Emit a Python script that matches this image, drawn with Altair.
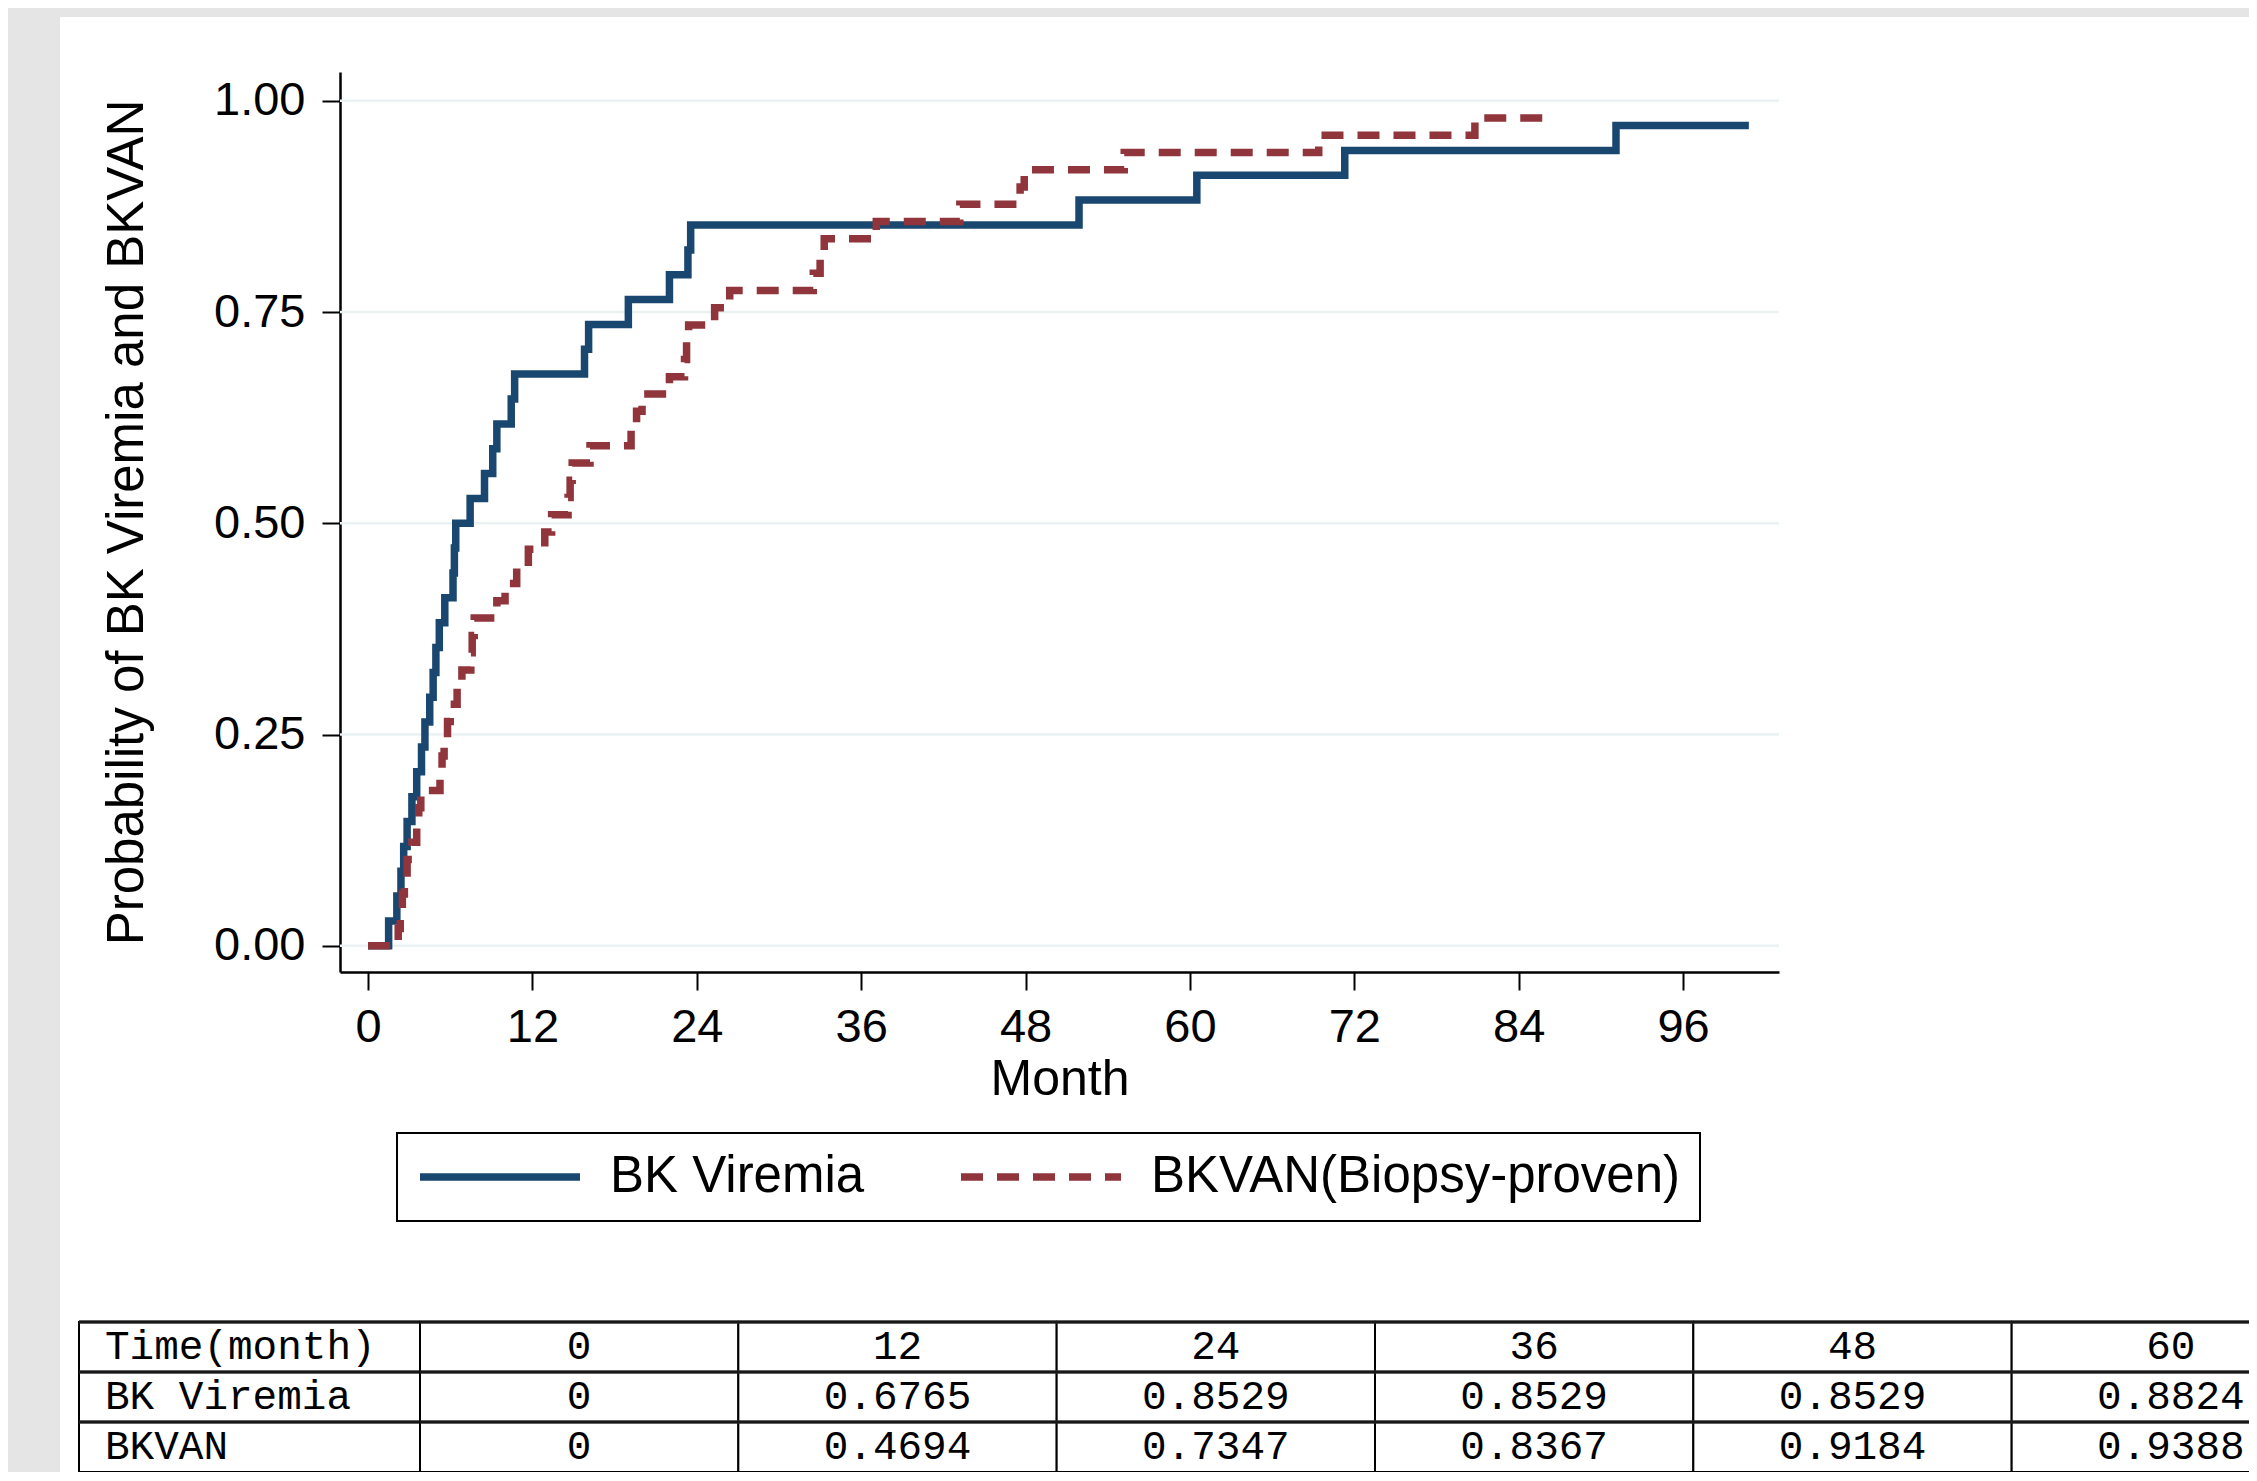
import altair as alt
import pandas as pd

# ---------------- data ----------------
series_names = ["BK Viremia", "BKVAN(Biopsy-proven)"]
series_colors = ["#1a476f", "#90353b"]

bkv_month = [0, 1.5, 2.1, 2.4, 2.6, 2.85, 3.2, 3.55, 3.9, 4.15,
             4.5, 4.75, 4.95, 5.2, 5.6, 6.2, 6.3, 6.4, 7.45, 8.5,
             9.1, 9.4, 10.45, 10.7, 15.8, 16.1, 19.0, 22.0, 23.35, 23.55,
             51.9, 60.5, 71.3, 91.1, 100.8]
bkv_prob = [0, 0.0294, 0.0588, 0.0882, 0.1176, 0.1471, 0.1765, 0.2059, 0.2353, 0.2647,
            0.2941, 0.3235, 0.3529, 0.3824, 0.4118, 0.4412, 0.4706, 0.5, 0.5294, 0.5588,
            0.5882, 0.6176, 0.6471, 0.6765, 0.7059, 0.7353, 0.7647, 0.7941, 0.8235, 0.8529,
            0.8824, 0.9118, 0.9412, 0.9706, 0.9706]

bkvan_month = [0, 2.2, 2.35, 2.5, 2.65, 2.85, 3.2, 3.55, 3.7, 3.85,
               5.25, 5.4, 5.55, 5.8, 6.0, 6.5, 6.85, 7.5, 7.6, 7.75,
               9.4, 10.0, 10.85, 11.7, 12.9, 13.4, 14.6, 14.75, 14.9, 16.2,
               19.2, 19.6, 20.0, 22.0, 23.1, 23.25, 23.4, 25.3, 26.4, 32.5,
               33.0, 33.3, 37.1, 43.2, 47.6, 47.9, 55.2, 69.4, 80.8, 86.4]
bkvan_prob = [0, 0.0204, 0.0408, 0.0612, 0.0816, 0.1020, 0.1224, 0.1429, 0.1633, 0.1837,
              0.2041, 0.2245, 0.2449, 0.2653, 0.2857, 0.3061, 0.3265, 0.3469, 0.3673, 0.3878,
              0.4082, 0.4286, 0.4490, 0.4694, 0.4898, 0.5102, 0.5306, 0.5510, 0.5714, 0.5918,
              0.6122, 0.6327, 0.6531, 0.6735, 0.6939, 0.7143, 0.7347, 0.7551, 0.7755, 0.7959,
              0.8163, 0.8367, 0.8571, 0.8776, 0.8980, 0.9184, 0.9388, 0.9592, 0.9796, 0.9796]

x_ticks = [0, 12, 24, 36, 48, 60, 72, 84, 96]
y_ticks = [0, 0.25, 0.5, 0.75, 1.0]

tab_rows = ["Time(month)", "BK Viremia", "BKVAN"]
tab_times = ["0", "12", "24", "36", "48", "60"]
tab_bkv = ["0", "0.6765", "0.8529", "0.8529", "0.8529", "0.8824"]
tab_bkvan = ["0", "0.4694", "0.7347", "0.8367", "0.9184", "0.9388"]

# ---------------- tables for the library ----------------
km = pd.concat([
    pd.DataFrame({"month": bkv_month, "prob": bkv_prob, "series": series_names[0]}),
    pd.DataFrame({"month": bkvan_month, "prob": bkvan_prob, "series": series_names[1]}),
], ignore_index=True)
grid_df = pd.DataFrame({"v": y_ticks})
lab_df = pd.DataFrame({"row": tab_rows, "col": ["label"] * len(tab_rows)})
val_df = pd.DataFrame({
    "row": [r for r in tab_rows for _ in tab_times],
    "col": tab_times * len(tab_rows),
    "txt": tab_times + tab_bkv + tab_bkvan,
})
dummy = pd.DataFrame({"a": [0]})

W, H = 1439, 900
PAD = {"left": 332, "top": 64, "right": 470, "bottom": 500}
FONT = "Liberation Sans"

xs = alt.Scale(domain=[-2.05, 103.0], nice=False, zero=False)
ys = alt.Scale(domain=[-0.031, 1.034], nice=False, zero=False)

x_axis = alt.Axis(values=x_ticks, format="d", title="Month", grid=False,
                  labelFlush=False, labelOverlap=False, tickSize=18, tickWidth=2,
                  tickColor="black", domainColor="black", domainWidth=2.5,
                  labelPadding=14, titlePadding=4, labelFontSize=47, titleFontSize=50)
y_axis = alt.Axis(values=y_ticks, format=".2f", title="Probability of BK Viremia and BKVAN",
                  grid=False, labelOverlap=False, tickSize=18, tickWidth=2,
                  tickColor="black", domainColor="black", domainWidth=2.5,
                  labelPadding=17, titlePadding=60, labelFontSize=47, titleFontSize=51)

leg = alt.Legend(title=None, orient="none", legendX=57, legendY=1061, direction="horizontal")
color_enc = alt.Color("series:N", scale=alt.Scale(domain=series_names, range=series_colors), legend=leg)
dash_enc = alt.StrokeDash("series:N", scale=alt.Scale(domain=series_names, range=[[1, 0], [22, 14]]), legend=leg)

# grey frame strips (decoration)
right_edge = W + PAD["right"]
bottom_edge = H + PAD["bottom"]
strip_left = alt.Chart(dummy).mark_rect(color="#e5e5e5").encode(
    x=alt.value(-PAD["left"]), x2=alt.value(-280), y=alt.value(-PAD["top"]), y2=alt.value(bottom_edge))
strip_top = alt.Chart(dummy).mark_rect(color="#e5e5e5").encode(
    x=alt.value(-PAD["left"]), x2=alt.value(right_edge), y=alt.value(-PAD["top"]), y2=alt.value(-55))

grid = alt.Chart(grid_df).mark_rule(color="#eaf2f3", strokeWidth=2.5).encode(
    y=alt.Y("v:Q", scale=ys, axis=y_axis))

line_base = alt.Chart(km).mark_line(interpolate="step-after", strokeWidth=7.5, strokeCap="butt")
blue = line_base.transform_filter(alt.datum.series == series_names[0]).encode(
    x=alt.X("month:Q", scale=xs, axis=x_axis),
    y=alt.Y("prob:Q", scale=ys, axis=y_axis),
    color=color_enc, strokeDash=dash_enc)
red = line_base.transform_filter(alt.datum.series == series_names[1]).encode(
    x=alt.X("month:Q", scale=xs, axis=x_axis),
    y=alt.Y("prob:Q", scale=ys, axis=y_axis),
    color=color_enc, strokeDash=dash_enc)

km_block = alt.layer(grid, blue, red)

# ---------------- table ----------------
ty = alt.Scale(type="band", domain=tab_rows, range=[1250, 1400], paddingInner=0, paddingOuter=0)
tx_lab = alt.Scale(type="band", domain=["label"], range=[-261, 80], paddingInner=0, paddingOuter=0)
tx_val = alt.Scale(type="band", domain=tab_times, range=[80, 1990], paddingInner=0, paddingOuter=0)
TFONT = dict(font="Liberation Mono", fontSize=41, fontWeight="normal", color="black", baseline="middle")

lab_cells = alt.Chart(lab_df).mark_rect(fill="white", stroke="black", strokeWidth=2).encode(
    x=alt.X("col:N", scale=tx_lab, axis=None), y=alt.Y("row:N", scale=ty, axis=None))
lab_lines = alt.Chart(lab_df).mark_tick(orient="horizontal", color="#222222", thickness=4, size=341).encode(
    x=alt.X("col:N", scale=tx_lab, axis=None), y=alt.Y("row:N", scale=ty, axis=None, bandPosition=0))
lab_text = alt.Chart(lab_df).mark_text(align="left", dx=26, **TFONT).encode(
    x=alt.X("col:N", scale=tx_lab, axis=None, bandPosition=0),
    y=alt.Y("row:N", scale=ty, axis=None), text="row:N")
lab_block = alt.layer(lab_cells, lab_lines, lab_text)

val_cells = alt.Chart(val_df).mark_rect(fill="white", stroke="black", strokeWidth=2).encode(
    x=alt.X("col:N", scale=tx_val, axis=None), y=alt.Y("row:N", scale=ty, axis=None))
val_lines = alt.Chart(val_df).mark_tick(orient="horizontal", color="#222222", thickness=4, size=319).encode(
    x=alt.X("col:N", scale=tx_val, axis=None), y=alt.Y("row:N", scale=ty, axis=None, bandPosition=0))
val_text = alt.Chart(val_df).mark_text(align="center", **TFONT).encode(
    x=alt.X("col:N", scale=tx_val, axis=None),
    y=alt.Y("row:N", scale=ty, axis=None), text="txt:N")
val_block = alt.layer(val_cells, val_lines, val_text)

chart = alt.layer(strip_left, strip_top, km_block, lab_block, val_block).resolve_scale(
    x="independent", y="independent"
).properties(
    width=W, height=H,
    autosize=alt.AutoSizeParams(type="none"),
    padding=PAD,
).configure(background="white").configure_view(stroke=None).configure_axis(
    labelFont=FONT, titleFont=FONT, labelColor="black", titleColor="black", titleFontWeight="normal"
).configure_legend(
    labelFont=FONT, labelFontSize=51, labelColor="black", symbolType="stroke",
    symbolSize=25600, symbolStrokeWidth=7.5, labelOffset=26, columnPadding=92,
    padding=19, strokeColor="black", strokeWidth=2, fillColor="white",
    clipHeight=50, labelLimit=1000,
)

chart.save("out.html", embed_options={"renderer": "svg", "actions": False})
